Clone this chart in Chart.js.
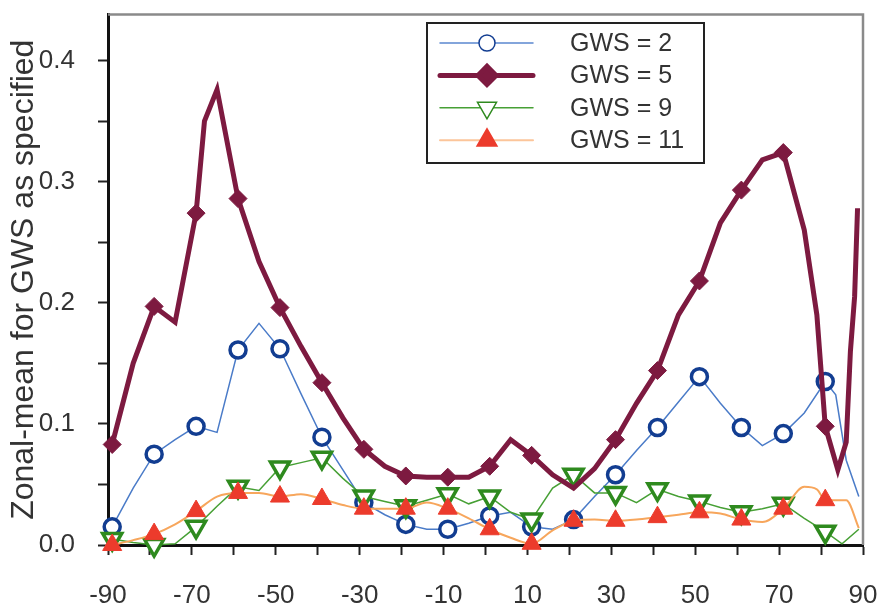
<!DOCTYPE html>
<html>
<head>
<meta charset="utf-8">
<script src="https://cdn.jsdelivr.net/npm/chart.js@4.4.1/dist/chart.umd.min.js"></script>
<style>
  html, body { margin: 0; padding: 0; background: #fff; }
  #wrap { width: 879px; height: 609px; position: relative; }
</style>
</head>
<body>
<div id="wrap"><canvas id="chart"></canvas></div>
<script>
// latitude (deg) and zonal-mean values
// markN: 1 = a symbol is drawn on that point
const lat2 = [-89,-84,-79,-74,-69,-64,-59,-54,-49,-44,-39,-34,-29,-24,-19,-14,-9,-4,1,6,11,16,21,26,31,36,41,46,51,56,61,66,71,76,81,83.5,86,89];
const val2 = [0.015,0.047,0.075,0.087,0.098,0.093,0.161,0.183,0.162,0.125,0.089,0.062,0.035,0.025,0.017,0.013,0.013,0.018,0.024,0.027,0.015,0.013,0.021,0.040,0.058,0.078,0.097,0.118,0.139,0.117,0.097,0.082,0.092,0.109,0.135,0.124,0.070,0.040];
const mark2 = [1,0,1,0,1,0,1,0,1,0,1,0,1,0,1,0,1,0,1,0,1,0,1,0,1,0,1,0,1,0,1,0,1,0,1,0,0,0];

const lat5 = [-89,-84,-79,-74,-69,-67,-64,-59,-54,-49,-44,-39,-34,-29,-24,-19,-14,-9,-4,1,6,11,16,21,26,31,36,41,46,51,56,61,66,71,76,79,81,84,86,87,88,88.7];
const val5 = [0.083,0.150,0.197,0.184,0.274,0.350,0.376,0.286,0.234,0.196,0.164,0.134,0.105,0.079,0.065,0.057,0.056,0.056,0.056,0.065,0.087,0.074,0.058,0.047,0.063,0.087,0.117,0.144,0.190,0.218,0.266,0.293,0.318,0.324,0.260,0.190,0.098,0.062,0.085,0.160,0.205,0.278];
const mark5 = [1,0,1,0,1,0,0,1,0,1,0,1,0,1,0,1,0,1,0,1,0,1,0,0,0,1,0,1,0,1,0,1,0,1,0,0,1,0,0,0,0,0];

const lat9 = [-89,-84,-79,-74,-69,-64,-59,-54,-49,-44,-39,-34,-29,-24,-19,-14,-9,-4,1,6,11,16,21,26,31,36,41,46,51,56,61,66,71,76,81,85,89];
const val9 = [0.005,0.002,0.000,0.001,0.015,0.032,0.048,0.045,0.064,0.068,0.072,0.055,0.040,0.036,0.032,0.037,0.042,0.034,0.040,0.027,0.021,0.047,0.058,0.043,0.043,0.035,0.046,0.040,0.036,0.031,0.027,0.030,0.034,0.022,0.011,0.001,0.013];
const mark9 = [1,0,1,0,1,0,1,0,1,0,1,0,1,0,1,0,1,0,1,0,1,0,1,0,1,0,1,0,1,0,1,0,1,0,1,0,0];

const lat11 = [-89,-84,-79,-74,-69,-64,-59,-54,-49,-44,-39,-34,-29,-24,-19,-14,-9,-4,1,6,11,16,21,26,31,36,41,46,51,56,61,66,71,76,79,81,86,89];
const val11 = [0.000,0.004,0.009,0.017,0.028,0.040,0.043,0.043,0.040,0.042,0.038,0.033,0.030,0.030,0.030,0.035,0.030,0.022,0.013,0.006,0.001,0.012,0.020,0.021,0.020,0.021,0.023,0.025,0.027,0.026,0.021,0.019,0.030,0.048,0.046,0.037,0.037,0.014];
const mark11 = [1,0,1,0,1,0,1,0,1,0,1,0,1,0,1,0,1,0,1,0,1,0,1,0,1,0,1,0,1,0,1,0,1,0,0,1,0,0];

const seriesNames = ['GWS = 2', 'GWS = 5', 'GWS = 9', 'GWS = 11'];
const yAxisTitle = 'Zonal-mean for GWS as specified';

const FONT = 'Liberation Sans, Arial, sans-serif';

function pts(lat, val) {
    return lat.map((x, i) => ({ x: x, y: val[i] }));
}
function radii(mark, r) {
    return mark.map(m => m ? r : 0);
}

// legend box drawn inside the plot, plus grey top/right frame
const frameAndLegend = {
    id: 'frameAndLegend',
    afterDraw(chart) {
        const ctx = chart.ctx;
        const a = chart.chartArea;
        ctx.save();
        ctx.strokeStyle = '#8a8a8a';
        ctx.lineWidth = 2.5;
        ctx.beginPath();
        ctx.moveTo(a.left, a.top);
        ctx.lineTo(a.right, a.top);
        ctx.lineTo(a.right, a.bottom);
        ctx.stroke();

        const x0 = 427, y0 = 23, w = 277, h = 140;
        ctx.fillStyle = '#fff';
        ctx.fillRect(x0, y0, w, h);
        ctx.strokeStyle = '#222';
        ctx.lineWidth = 2;
        ctx.strokeRect(x0, y0, w, h);

        chart.data.datasets.forEach((ds, i) => {
            const y = 43 + i * 32.4;
            ctx.strokeStyle = ds.legendLine;
            ctx.lineWidth = ds.borderWidth;
            ctx.lineCap = 'round';
            ctx.beginPath();
            ctx.moveTo(440, y);
            ctx.lineTo(533, y);
            ctx.stroke();
            ctx.fillStyle = ds.pointBackgroundColor;
            ctx.strokeStyle = ds.pointBorderColor;
            Chart.helpers.drawPoint(ctx, {
                pointStyle: ds.pointStyle,
                rotation: ds.pointRotation || 0,
                radius: ds.legendRadius,
                borderWidth: ds.pointBorderWidth
            }, 487, y);
            ctx.fillStyle = '#333';
            ctx.font = '25px ' + FONT;
            ctx.textBaseline = 'middle';
            ctx.textAlign = 'left';
            ctx.fillText(ds.label, 570, y + 1);
        });
        ctx.restore();
    }
};

const ctx = document.getElementById('chart').getContext('2d');
new Chart(ctx, {
    type: 'line',
    data: {
        datasets: [{
            label: seriesNames[0],
            data: pts(lat2, val2),
            borderColor: '#4a7bc8',
            legendLine: '#5b88d0',
            borderWidth: 1.5,
            pointStyle: 'circle',
            pointRadius: radii(mark2, 8),
            legendRadius: 8,
            pointBorderWidth: 3.5,
            pointBorderColor: '#123d91',
            pointBackgroundColor: '#fff',
            order: 4
        }, {
            label: seriesNames[1],
            data: pts(lat5, val5),
            borderColor: '#7d1a40',
            legendLine: '#7d1a40',
            borderWidth: 5,
            pointStyle: 'rectRot',
            pointRadius: radii(mark5, 9),
            legendRadius: 9,
            pointBorderWidth: 1,
            pointBorderColor: '#7d1a40',
            pointBackgroundColor: '#7d1a40',
            order: 1
        }, {
            label: seriesNames[2],
            data: pts(lat9, val9),
            borderColor: '#47a035',
            legendLine: '#47a035',
            borderWidth: 1.5,
            pointStyle: 'triangle',
            pointRotation: 180,
            pointRadius: radii(mark9, 11),
            legendRadius: 11,
            pointBorderWidth: 3.5,
            pointBorderColor: '#2e8a1e',
            pointBackgroundColor: '#fff',
            order: 3
        }, {
            label: seriesNames[3],
            data: pts(lat11, val11),
            borderColor: '#f7a65c',
            legendLine: '#fcc59a',
            borderWidth: 2,
            cubicInterpolationMode: 'monotone',
            pointStyle: 'triangle',
            pointRadius: radii(mark11, 11),
            legendRadius: 11,
            pointBorderWidth: 1,
            pointBorderColor: '#ec3b2c',
            pointBackgroundColor: '#ec3b2c',
            order: 2
        }]
    },
    options: {
        responsive: true,
        maintainAspectRatio: false,
        animation: false,
        clip: false,
        layout: { padding: { top: 11, right: 16, left: 0, bottom: 0 } },
        plugins: {
            legend: { display: false },
            tooltip: { enabled: false }
        },
        scales: {
            x: {
                type: 'linear',
                min: -90,
                max: 90,
                afterFit: s => {
                    s.height = 64;
                    s.paddingLeft = 0;
                    s.paddingRight = 0;
                },
                border: { color: '#111', width: 3 },
                grid: { drawOnChartArea: false, tickLength: 10, tickColor: '#222', tickWidth: 2 },
                ticks: {
                    stepSize: 10,
                    autoSkip: false,
                    maxRotation: 0,
                    padding: 25,
                    color: '#333',
                    font: { family: FONT, size: 26 },
                    callback: v => ((v + 90) % 20 === 0 ? String(v) : '')
                }
            },
            y: {
                min: 0,
                max: 0.438,
                afterFit: s => {
                    s.width = 108;
                    s.paddingTop = 0;
                    s.paddingBottom = 0;
                },
                afterBuildTicks: s => {
                    s.ticks = s.ticks.filter(t => Math.abs(Math.round(t.value * 100) % 5) === 0 && t.value < 0.43);
                },
                border: { color: '#111', width: 3 },
                grid: { drawOnChartArea: false, tickLength: 10, tickColor: '#222', tickWidth: 2 },
                title: {
                    display: true,
                    text: yAxisTitle,
                    color: '#333',
                    font: { family: FONT, size: 32 },
                    padding: { top: 5, bottom: 0 }
                },
                ticks: {
                    stepSize: 0.05,
                    padding: 23,
                    color: '#333',
                    font: { family: FONT, size: 26 },
                    callback: v => (Math.round(v * 100) % 10 === 0 ? v.toFixed(1) : '')
                }
            }
        }
    },
    plugins: [frameAndLegend]
});
</script>
</body>
</html>
